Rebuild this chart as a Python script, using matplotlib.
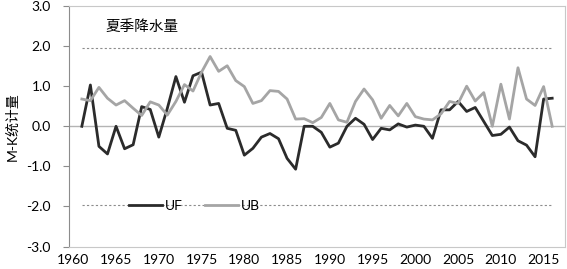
import matplotlib
matplotlib.use("Agg")
import matplotlib.pyplot as plt
import numpy as np

# 年份与 M-K 统计量
years = list(range(1961, 2017))
uf = [0.0, 1.03, -0.50, -0.69, 0.00, -0.56, -0.46, 0.49, 0.42, -0.27,
      0.45, 1.24, 0.60, 1.26, 1.35, 0.53, 0.57, -0.05, -0.10, -0.72,
      -0.55, -0.27, -0.18, -0.31, -0.80, -1.07, 0.00, 0.00, -0.15, -0.52,
      -0.42, 0.00, 0.20, 0.05, -0.33, -0.05, -0.09, 0.06, -0.02, 0.03,
      0.00, -0.30, 0.41, 0.41, 0.62, 0.37, 0.47, 0.12, -0.23, -0.20,
      -0.02, -0.36, -0.47, -0.76, 0.68, 0.70]
ub = [0.68, 0.64, 0.97, 0.70, 0.53, 0.64, 0.45, 0.27, 0.61, 0.53,
      0.28, 0.62, 1.04, 0.88, 1.35, 1.74, 1.37, 1.51, 1.14, 0.99,
      0.57, 0.64, 0.89, 0.87, 0.68, 0.18, 0.19, 0.09, 0.22, 0.57,
      0.16, 0.10, 0.62, 0.93, 0.66, 0.20, 0.52, 0.26, 0.57, 0.24,
      0.18, 0.16, 0.31, 0.62, 0.57, 1.00, 0.63, 0.84, 0.00, 1.05,
      0.18, 1.46, 0.68, 0.52, 0.99, 0.00]
crit = 1.96

plt.rcParams["font.family"] = ["Lato", "Noto Sans CJK SC", "DejaVu Sans"]

fig = plt.figure(figsize=(5.67, 2.69), dpi=100)
ax = fig.add_axes([0.1217, 0.0833, 0.8748, 0.8944])

# 临界值线
ax.plot(years, [crit] * len(years), color="#8c8c8c", lw=0.8, ls=(0, (2, 2)))
ax.plot(years, [-crit] * len(years), color="#8c8c8c", lw=0.8, ls=(0, (2, 2)))
ax.axhline(0, color="#b4b4b4", lw=1.0)

l1, = ax.plot(years, uf, color="#2b2b2b", lw=2.0, label="UF")
l2, = ax.plot(years, ub, color="#a5a5a5", lw=2.0, label="UB")

ax.set_xlim(1959.5, 2017.5)
ax.set_ylim(-3, 3)
ax.set_xticks(np.arange(1960, 2016, 5))
ax.set_yticks(np.arange(-3, 3.1, 1))
ax.set_yticklabels(["%.1f" % v for v in np.arange(-3, 3.1, 1)])

for s in ["top", "right", "bottom"]:
    ax.spines[s].set_color("#c8c8c8")
ax.spines["left"].set_color("#8c8c8c")
ax.tick_params(axis="x", length=0, pad=5, labelsize=10, colors="#000000")
ax.tick_params(axis="y", length=4, pad=9, labelsize=10, color="#8c8c8c")

ax.set_ylabel("M-K统计量", fontsize=10, labelpad=6)
ax.text(1963.8, 2.48, "夏季降水量", fontsize=10.5, va="center", ha="left")

ax.legend(handles=[l1, l2], loc="center left", bbox_to_anchor=(0.095, 0.17),
          ncol=2, frameon=False, fontsize=10, handlelength=2.4,
          handletextpad=0.2, columnspacing=1.6)

fig.savefig("out.png", dpi=100)
